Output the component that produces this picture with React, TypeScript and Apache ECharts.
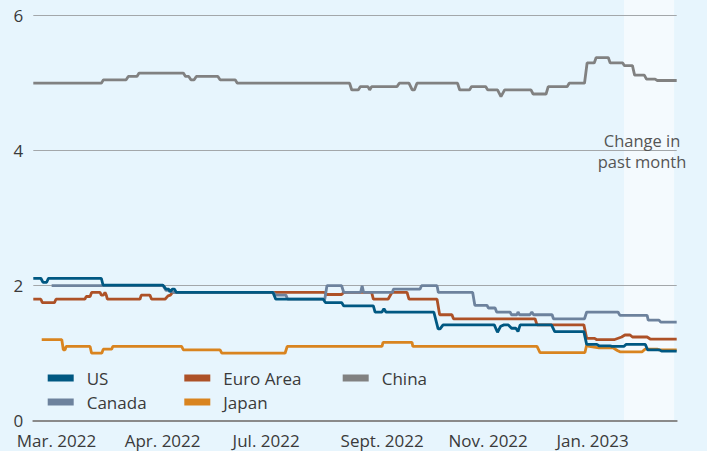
import React, { useEffect, useRef } from 'react';
import * as echarts from 'echarts';

// x = trading-day index (0..298); labels every 50 days
const xMax = 298;
const xLabelDays = [10, 60, 110, 160, 210, 260];
const xLabels = ['Mar. 2022', 'Apr. 2022', 'Jul. 2022', 'Sept. 2022', 'Nov. 2022', 'Jan. 2023'];
const yTicks = { min: 0, max: 6, interval: 2 };
const bandRange = [273.6, 296.8];
const bandText = 'Change in\npast month';

const usData = [
  [0, 2.11], [3.5, 2.11], [4.5, 2.05], [6.2, 2.05], [7, 2.11], [31.5, 2.11], [32.3, 2.01], [60, 2.01],
  [61.5, 1.95], [62.7, 1.95], [63.3, 1.91], [64.5, 1.95], [65.3, 1.95], [66.3, 1.9], [111, 1.9],
  [112.3, 1.8], [134.3, 1.8], [135.3, 1.75], [142.8, 1.75], [143.8, 1.7], [157.5, 1.7], [158.3, 1.61],
  [161.5, 1.61], [162.4, 1.66], [163.3, 1.61], [185.5, 1.61], [187.5, 1.36], [188.4, 1.36], [189.8, 1.42],
  [213.5, 1.42], [215, 1.31], [216.5, 1.4], [218, 1.42], [220, 1.42], [221.5, 1.37], [223.5, 1.37],
  [224.5, 1.32], [225.5, 1.42], [240, 1.42], [241.5, 1.32], [255, 1.32], [256.3, 1.13], [261, 1.13],
  [262, 1.11], [267, 1.11], [268, 1.1], [273.5, 1.1], [274.5, 1.13], [283.5, 1.13], [284.5, 1.05],
  [290, 1.05], [291, 1.03], [298, 1.03],
];
const euroData = [
  [0, 1.8], [3.5, 1.8], [4.2, 1.75], [9.8, 1.75], [10.5, 1.8], [23.9, 1.8], [24.5, 1.84], [26.3, 1.84],
  [27, 1.9], [30.9, 1.9], [31.5, 1.86], [32.4, 1.86], [33.2, 1.9], [33.8, 1.86], [34.3, 1.8], [49.4, 1.8],
  [50, 1.86], [54, 1.86], [54.8, 1.8], [61, 1.8], [62.4, 1.85], [63.5, 1.86], [64.5, 1.9], [134.8, 1.9],
  [135.8, 1.87], [142.8, 1.87], [143.8, 1.9], [156.7, 1.9], [157.5, 1.8], [164.3, 1.8], [166.1, 1.9],
  [173.1, 1.9], [174, 1.8], [187, 1.8], [188.2, 1.57], [193.9, 1.57], [194.6, 1.51], [232.4, 1.51],
  [233.3, 1.42], [255, 1.42], [256.3, 1.22], [260, 1.22], [261, 1.2], [269, 1.2], [272.5, 1.24],
  [274, 1.27], [276.4, 1.27], [277.5, 1.24], [284.3, 1.24], [285.7, 1.21], [298, 1.21],
];
const chinaData = [
  [0, 5.0], [31.5, 5.0], [32.5, 5.05], [43, 5.05], [44, 5.1], [48, 5.1], [49, 5.15], [69.5, 5.15],
  [70.5, 5.1], [72, 5.1], [73, 5.05], [74.5, 5.05], [75.5, 5.1], [85.5, 5.1], [86.5, 5.05], [93.5, 5.05],
  [94.5, 5.0], [146.5, 5.0], [147.5, 4.9], [150.5, 4.9], [151.5, 4.95], [155, 4.95], [155.8, 4.9],
  [156.7, 4.95], [168.5, 4.95], [169.5, 5.0], [174, 5.0], [175.5, 4.9], [176.5, 4.9], [177.7, 5.0],
  [196.5, 5.0], [197.5, 4.9], [202, 4.9], [203, 4.95], [209.5, 4.95], [210.5, 4.9], [215, 4.9],
  [216.6, 4.8], [218.3, 4.9], [230.5, 4.9], [231.5, 4.84], [237.5, 4.84], [238.5, 4.95], [247.3, 4.95],
  [248.2, 5.0], [255.3, 5.0], [256.5, 5.3], [259.8, 5.3], [260.7, 5.38], [266.3, 5.38], [267.2, 5.3],
  [273, 5.3], [273.8, 5.26], [277.5, 5.26], [278.5, 5.12], [283, 5.12], [284, 5.06], [288, 5.06],
  [289, 5.04], [298, 5.04],
];
const canadaData = [
  [8.5, 2.0], [60.2, 2.0], [61.5, 1.93], [63.5, 1.93], [64.8, 1.9], [111.2, 1.9], [112.4, 1.86],
  [117, 1.86], [117.8, 1.8], [135, 1.8], [136, 2.0], [142.8, 2.0], [143.8, 1.9], [151.6, 1.9],
  [152.3, 2.0], [153, 1.9], [166.3, 1.9], [166.8, 1.95], [179.1, 1.95], [179.8, 2.0], [187, 2.0],
  [187.6, 1.9], [203.5, 1.9], [204.5, 1.71], [210.1, 1.71], [210.8, 1.67], [213.9, 1.67], [214.6, 1.61],
  [220.8, 1.61], [221.5, 1.57], [224, 1.57], [224.5, 1.61], [225.2, 1.57], [230, 1.57], [230.9, 1.61],
  [231.7, 1.57], [240.3, 1.57], [240.9, 1.51], [255.3, 1.51], [256.3, 1.61], [270.8, 1.61],
  [271.7, 1.56], [284.3, 1.56], [284.8, 1.49], [289.8, 1.49], [290.6, 1.46], [298, 1.46],
];
const japanData = [
  [3.9, 1.2], [13.2, 1.2], [13.9, 1.05], [14.7, 1.05], [15.2, 1.1], [26.3, 1.1], [27, 1.0], [31.7, 1.0],
  [32.4, 1.06], [36.3, 1.06], [36.8, 1.1], [68.7, 1.1], [69.5, 1.05], [86.5, 1.05], [87.3, 1.0],
  [116.6, 1.0], [117.6, 1.1], [161.5, 1.1], [162, 1.16], [175.4, 1.16], [175.8, 1.1], [233.3, 1.1],
  [234.7, 1.01], [255.5, 1.01], [256.3, 1.12], [257.5, 1.1], [262, 1.08], [268.5, 1.08], [270.5, 1.04],
  [271.7, 1.02], [282, 1.02], [283.3, 1.06], [288.9, 1.06], [289.8, 1.05], [298, 1.05],
];

const FONT = '"Open Sans", "Noto Sans", sans-serif';
const TEXT = '#3a3a3a';
const COLORS: Record<string, string> = {
  US: '#005882',
  'Euro Area': '#ad5127',
  China: '#818181',
  Canada: '#6d829d',
  Japan: '#d9841f',
};

export default function App() {
  const ref = useRef<HTMLDivElement>(null);
  useEffect(() => {
    if (!ref.current) return;
    const chart = echarts.init(ref.current, undefined, { renderer: 'svg' });
    const line = (name: string, data: number[][]) => ({
      name,
      type: 'line',
      data,
      symbol: 'none',
      lineStyle: { width: 2.8, color: COLORS[name] },
      itemStyle: { color: COLORS[name] },
    });
    const legendPos: [string, number, number][] = [
      ['US', 47.7, 368],
      ['Euro Area', 184.3, 368],
      ['China', 342.7, 368],
      ['Canada', 47.7, 392],
      ['Japan', 184.3, 392],
    ];
    chart.setOption({
      animation: false,
      backgroundColor: '#e7f5fd',
      grid: { left: 33.3, right: 30.3, top: 15.7, bottom: 30.3, containLabel: false },
      legend: legendPos.map(([n, l, t]) => ({
        data: [n],
        left: l,
        top: t,
        padding: 0,
        icon: 'rect',
        itemWidth: 26,
        itemHeight: 7,
        selectedMode: false,
        textStyle: { fontFamily: FONT, fontSize: 17, color: TEXT, lineHeight: 20, padding: [0, 0, 0, 8] },
      })),
      xAxis: {
        type: 'value',
        min: 0,
        max: xMax,
        axisLine: { show: true, lineStyle: { color: '#8a8a8a', width: 2 } },
        axisTick: { show: false },
        splitLine: { show: false },
        axisLabel: {
          customValues: xLabelDays,
          margin: 11,
          align: 'center',
          formatter: (v: number) => `{a|${xLabels[xLabelDays.indexOf(Math.round(v))] ?? ''}}`,
          rich: { a: { width: 76.4, align: 'left', fontFamily: FONT, fontSize: 17, lineHeight: 18, color: TEXT } },
        },
      },
      yAxis: {
        type: 'value',
        min: yTicks.min,
        max: yTicks.max,
        interval: yTicks.interval,
        axisLine: { show: false },
        axisTick: { show: false },
        splitLine: { lineStyle: { color: '#a3a7aa', width: 1.2 } },
        axisLabel: { margin: 10, fontFamily: FONT, fontSize: 17, lineHeight: 17, color: TEXT },
      },
      series: [
        line('China', chinaData),
        line('Japan', japanData),
        line('Euro Area', euroData),
        line('Canada', canadaData),
        line('US', usData),
      ],
    });
    const x1 = chart.convertToPixel({ xAxisIndex: 0 }, bandRange[0]) as number;
    const x2 = chart.convertToPixel({ xAxisIndex: 0 }, bandRange[1]) as number;
    const y0 = chart.convertToPixel({ yAxisIndex: 0 }, 0) as number;
    const y4 = chart.convertToPixel({ yAxisIndex: 0 }, 4) as number;
    chart.setOption({
      graphic: [
        {
          type: 'rect',
          z: -10,
          silent: true,
          shape: { x: x1, y: 0, width: x2 - x1, height: y0 },
          style: { fill: '#f4fafe' },
        },
        {
          type: 'text',
          z: 10,
          x: (x1 + x2) / 2 - 7,
          y: y4,
          style: {
            text: bandText,
            align: 'center',
            verticalAlign: 'middle',
            fontFamily: FONT,
            fontSize: 16.5,
            lineHeight: 21,
            fill: '#555555',
          },
        },
      ],
    });
    return () => chart.dispose();
  }, []);
  return (
    <div
      ref={ref}
      style={{ position: 'fixed', left: 0, top: 0, width: 707, height: 451 }}
    />
  );
}
